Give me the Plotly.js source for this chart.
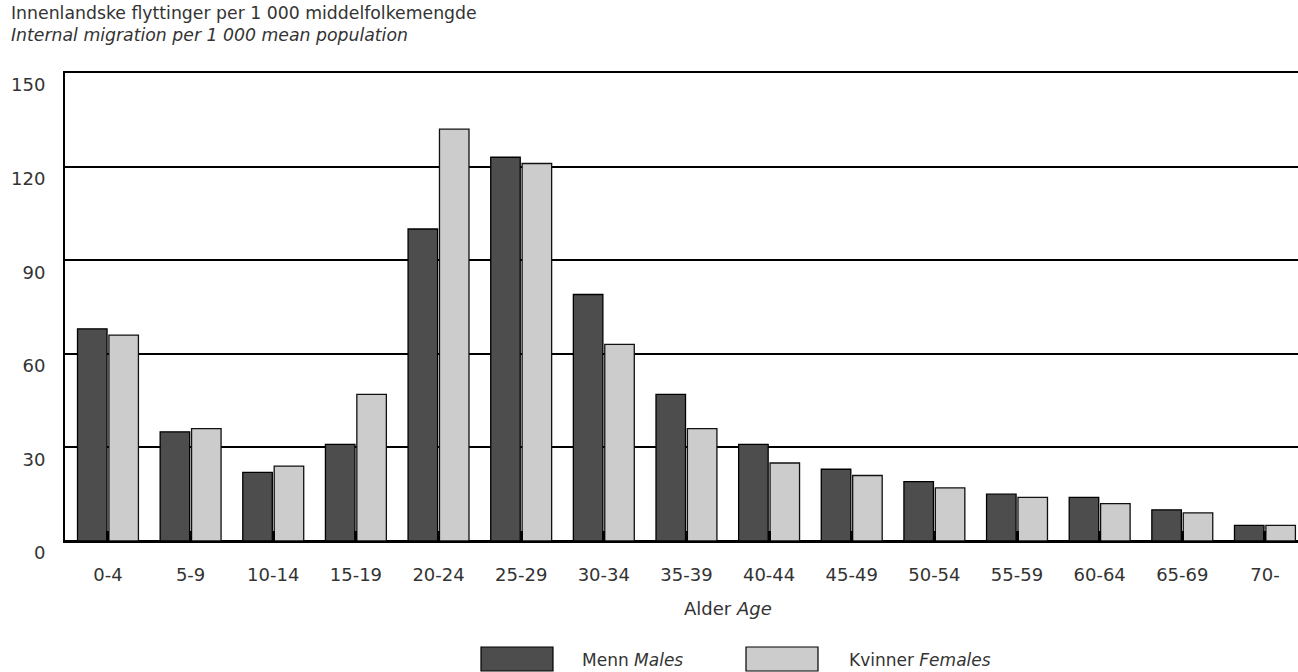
<!DOCTYPE html>
<html>
<head>
<meta charset="utf-8">
<script src="https://cdn.plot.ly/plotly-3.0.1.min.js"></script>
<style>html,body{margin:0;padding:0;background:#fff;}#chart{width:1298px;height:672px;}</style>
</head>
<body>
<div id="chart"></div>
<script>
const categories = ["0-4","5-9","10-14","15-19","20-24","25-29","30-34","35-39","40-44","45-49","50-54","55-59","60-64","65-69","70-"];
const males   = [68, 35, 22, 31, 100, 123, 79, 47, 31, 23, 19, 15, 14, 10, 5];
const females = [66, 36, 24, 47, 132, 121, 63, 36, 25, 21, 17, 14, 12, 9, 5];
const seriesNo = ["Menn", "Kvinner"];
const seriesEn = ["Males", "Females"];
const titleNo = "Innenlandske flyttinger per 1 000 middelfolkemengde";
const titleEn = "Internal migration per 1 000 mean population";
const axisNo = "Alder", axisEn = "Age";
const yTicks = [0, 30, 60, 90, 120, 150];

const FONT = "DejaVu Sans, Open Sans, sans-serif";
const TXT = "#333333";
const COL_M = "#4d4d4d", COL_F = "#cccccc";
const FS = 18;

const traces = [
  {type:"bar", x:categories, y:males, name:seriesNo[0],
   marker:{color:COL_M, line:{color:"#000", width:1.3}}, hoverinfo:"x+y"},
  {type:"bar", x:categories, y:females, name:seriesNo[1],
   marker:{color:COL_F, line:{color:"#111", width:1.3}}, hoverinfo:"x+y"}
];

const L = 65, R = 1298, T = 73, B = 541;
const px = v => (v - L) / (R - L);
const py = v => (B - v) / (B - T);

const layout = {
  width:1298, height:672,
  margin:{l:L, r:1298-R, t:T, b:672-B, pad:0},
  paper_bgcolor:"#fff", plot_bgcolor:"#fff",
  font:{family:FONT, size:FS, color:TXT},
  showlegend:false,
  barmode:"group", bargap:0.24, bargroupgap:0.06,
  xaxis:{type:"category", range:[-0.52, 14.40], showline:true, linecolor:"#000", linewidth:2, mirror:true,
         ticks:"inside", ticklen:10, tickwidth:3, tickcolor:"#000", showgrid:false,
         tickfont:{family:FONT, size:FS, color:TXT}, ticklabelstandoff:16, fixedrange:true},
  yaxis:{range:[0,150], tickvals:yTicks, showgrid:true, gridcolor:"#000", gridwidth:2,
         showline:true, linecolor:"#000", linewidth:2, ticks:"",
         zeroline:true, zerolinecolor:"#000", zerolinewidth:3,
         tickfont:{family:FONT, size:FS, color:TXT}, ticklabelstandoff:14, ticklabelshift:12, fixedrange:true},
  shapes:[
    {type:"rect", xref:"paper", yref:"paper", x0:px(481), x1:px(553), y0:py(647), y1:py(671),
     fillcolor:COL_M, line:{color:"#000", width:1.2}},
    {type:"rect", xref:"paper", yref:"paper", x0:px(746), x1:px(818), y0:py(647), y1:py(671),
     fillcolor:COL_F, line:{color:"#000", width:1.2}}
  ],
  annotations:[
    {xref:"paper", yref:"paper", x:px(9), y:py(1), xanchor:"left", yanchor:"top", align:"left", showarrow:false,
     text:titleNo+"<br><i>"+titleEn+"</i>", font:{family:FONT, size:17.3, color:TXT}},
    {xref:"paper", yref:"paper", x:px(728), y:py(608), xanchor:"center", yanchor:"middle", showarrow:false,
     text:axisNo+" <i>"+axisEn+"</i>", font:{family:FONT, size:FS, color:TXT}},
    {xref:"paper", yref:"paper", x:px(580), y:py(660), xanchor:"left", yanchor:"middle", showarrow:false,
     text:seriesNo[0]+" <i>"+seriesEn[0]+"</i>", font:{family:FONT, size:17, color:TXT}},
    {xref:"paper", yref:"paper", x:px(847), y:py(660), xanchor:"left", yanchor:"middle", showarrow:false,
     text:seriesNo[1]+" <i>"+seriesEn[1]+"</i>", font:{family:FONT, size:17, color:TXT}}
  ]
};

Plotly.newPlot("chart", traces, layout, {displayModeBar:false, staticPlot:true});
</script>
</body>
</html>
